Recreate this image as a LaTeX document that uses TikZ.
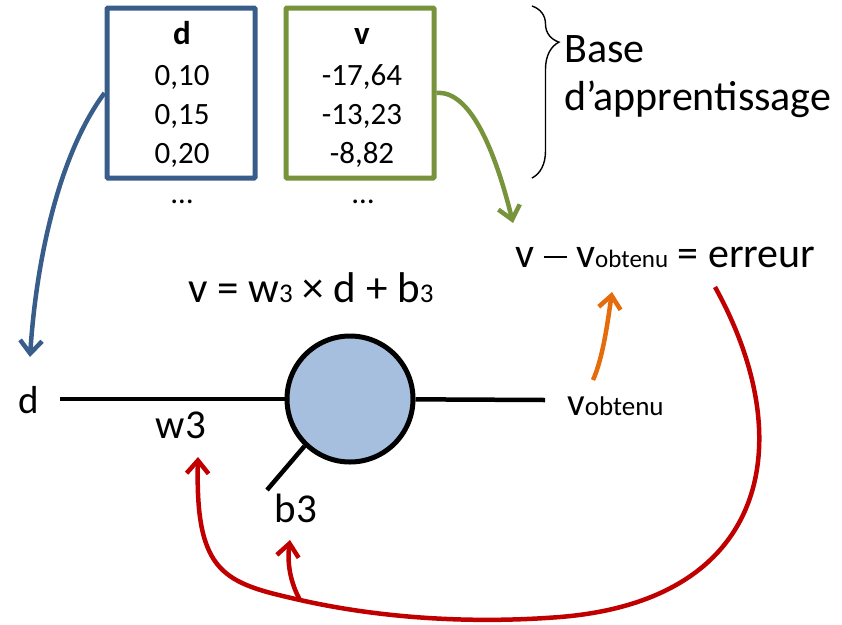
\documentclass[tikz,border=0pt]{standalone}
\usepackage{fontspec}
\setmainfont{Carlito}
\usetikzlibrary{arrows.meta,positioning,decorations.pathreplacing}
\definecolor{dblue}{HTML}{385D8A}
\definecolor{vgreen}{HTML}{77933C}
\definecolor{nfill}{HTML}{A7BFDE}
\definecolor{corange}{HTML}{E46C0A}
\definecolor{cred}{HTML}{C00000}
\newcommand{\idx}[1]{{\fontsize{27}{27}\selectfont #1}}
\newcommand{\moins}{\rule[0.22em]{0.55em}{0.05em}}

\begin{document}
\begin{tikzpicture}[x=1pt,y=-1pt,
  colbox/.style={draw,line width=5pt,minimum width=148pt,minimum height=170pt,inner sep=0pt,rounded corners=1pt},
  colhead/.style={anchor=base,inner sep=0pt,font=\fontsize{33}{33}\selectfont\bfseries},
  colval/.style={anchor=base,inner sep=0pt,font=\fontsize{31}{31}\selectfont},
  bigtext/.style={inner sep=0pt,font=\fontsize{41}{48}\selectfont},
  wire/.style={line width=4.5pt},
  neuron/.style={circle,draw,line width=5pt,fill=nfill,minimum size=126pt,inner sep=0pt},
  lien/.style={line width=4.5pt,-{Straight Barb[length=13pt,width=22pt]}},
]
  \useasboundingbox (0,0) rectangle (842,624);

  % base d'apprentissage
  \node[colbox,draw=dblue] (dcol) at (181,93) {};
  \node[colbox,draw=vgreen] (vcol) at (360,93) {};
  \node[colhead] (dhead) at (182,44) {d};
  \node[colhead] (vhead) at (362,44) {v};
  \foreach \dv/\vv/\yy in {{0,10}/{-17,64}/85, {0,15}/{-13,23}/124, {0,20}/{-8,82}/163} {
    \node[colval] (dval\yy) at (182,\yy) {\dv};
    \node[colval] (vval\yy) at (362,\yy) {\vv};
  }
  \node[colval] (ddots) at (182,203) {…};
  \node[colval] (vdots) at (363,203) {…};
  \draw[line width=1.4pt,decorate,decoration={brace,amplitude=27pt,aspect=0.21}] (532,6) -- (532,178);
  \node[bigtext,anchor=base west,align=left,font=\fontsize{42}{48}\selectfont] (base) at (564,110) {Base\\d’apprentissage};

  % neurone
  \node[neuron] (nrn) at (350,399) {};
  \node[bigtext,anchor=base,font=\fontsize{39}{39}\selectfont] (dlab) at (29,413) {d};
  \node[bigtext,anchor=base] (w3lab) at (181,438) {w3};
  \node[bigtext,anchor=base] (b3lab) at (296,522) {b3};
  \node[bigtext,anchor=base west,font=\fontsize{39}{39}\selectfont] (vout) at (567,415) {v\idx{obtenu}};
  \node[bigtext,anchor=base west,font=\fontsize{43}{48}\selectfont] (formule) at (188,302) {v = w\idx{3} × d + b\idx{3}};
  \node[bigtext,anchor=base west,font=\fontsize{42}{48}\selectfont] (erreq) at (515,267) {v \moins{} v{\fontsize{25}{25}\selectfont obtenu} = erreur};

  \coordinate (dend) at (60,399);
  \coordinate (vend) at (545,400);
  \coordinate (bend) at (267,490);
  \draw[wire] (dend) -- (nrn);
  \draw[wire] (nrn) -- (vend);
  \draw[wire] (nrn.226) -- (bend);

  % fleches
  \coordinate (dtip) at (30,357);
  \coordinate (vtip) at (513,223);
  \coordinate (otail) at (593,380);
  \coordinate (otip) at (612,292);
  \coordinate (etail) at (715,287);
  \coordinate (split) at (300,600);
  \coordinate (w3tip) at (198,457);
  \coordinate (b3tip) at (290,540);
  \draw[lien,dblue] (dcol.west) .. controls (62,150) and (37,250) .. (dtip);
  \draw[lien,vgreen] (vcol.east) .. controls (470,90) and (495,150) .. (vtip);
  \draw[lien,corange] (otail) .. controls (603,358) and (608,320) .. (otip);
  \draw[lien,cred] (etail) .. controls (800,440) and (770,600) .. (560,617)
    .. controls (470,624) and (380,618) .. (split)
    .. controls (225,583) and (195,575) .. (w3tip);
  \draw[lien,cred] (split) .. controls (290,582) and (287,562) .. (b3tip);
\end{tikzpicture}
\end{document}
